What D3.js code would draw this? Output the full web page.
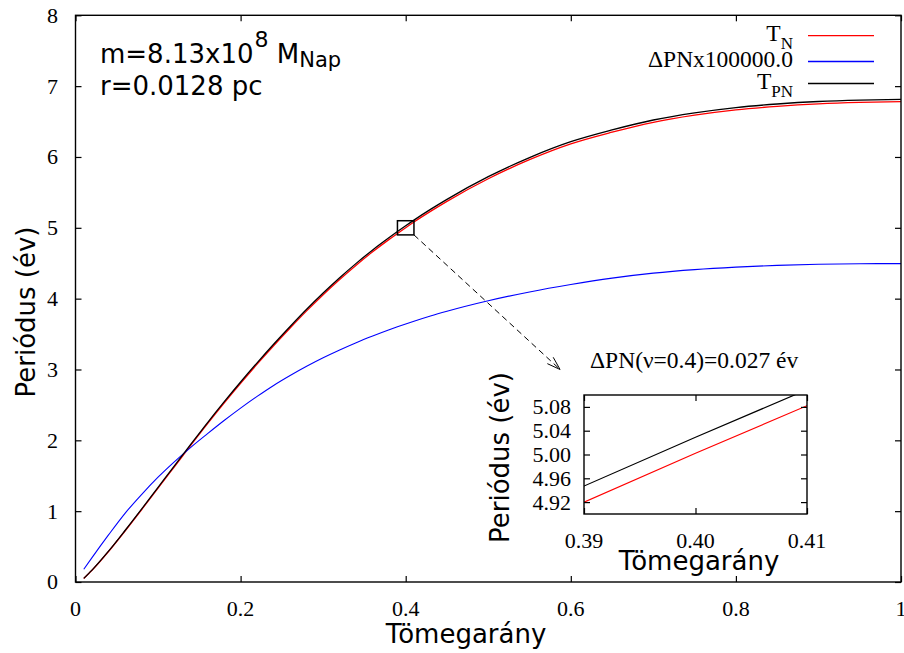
<!DOCTYPE html>
<html>
<head>
<meta charset="utf-8">
<script src="https://cdn.jsdelivr.net/npm/d3@7"></script>
<style>
  body { margin: 0; background: #fff; }
  svg { display: block; }
</style>
</head>
<body>
<svg id="chart" width="904" height="653"></svg>
<script>
// Mass ratio samples (nu)
const massRatio = [0.01, 0.02, 0.04, 0.06, 0.08, 0.10, 0.12, 0.14, 0.16, 0.18,
  0.20, 0.22, 0.24, 0.26, 0.28, 0.30, 0.32, 0.34, 0.36, 0.38,
  0.39, 0.40, 0.41, 0.43, 0.45, 0.50, 0.55, 0.60, 0.65, 0.70,
  0.75, 0.80, 0.85, 0.90, 0.95, 1.00];

// Newtonian period T_N (years)
const periodNewton = [0.05, 0.165, 0.43, 0.72, 1.02, 1.325, 1.63, 1.935, 2.235, 2.525,
  2.805, 3.075, 3.335, 3.585, 3.827, 4.056, 4.271, 4.473, 4.662, 4.837,
  4.920, 5.002, 5.082, 5.232, 5.374, 5.693, 5.962, 6.185, 6.35, 6.49,
  6.59, 6.665, 6.715, 6.75, 6.77, 6.78];

// Post-Newtonian period T_PN (years)
const periodPN = [0.051, 0.168, 0.435, 0.727, 1.029, 1.336, 1.643, 1.949, 2.251, 2.542,
  2.823, 3.094, 3.356, 3.607, 3.850, 4.079, 4.295, 4.498, 4.688, 4.863,
  4.947, 5.029, 5.109, 5.260, 5.402, 5.722, 5.992, 6.216, 6.382, 6.522,
  6.623, 6.698, 6.748, 6.783, 6.803, 6.813];

// PN correction, scaled by 1e5
const deltaPNScaled = [0.18, 0.345, 0.665, 0.97, 1.235, 1.48, 1.70, 1.905, 2.095, 2.28,
  2.455, 2.62, 2.775, 2.915, 3.045, 3.165, 3.275, 3.378, 3.472, 3.56,
  3.602, 3.642, 3.681, 3.755, 3.822, 3.97, 4.095, 4.20, 4.29, 4.36,
  4.41, 4.445, 4.47, 4.485, 4.493, 4.495];

const xTicks = [0, 0.2, 0.4, 0.6, 0.8, 1];
const yTicks = [0, 1, 2, 3, 4, 5, 6, 7, 8];
const insetXTicks = [0.39, 0.40, 0.41];
const insetYTicks = [4.92, 4.96, 5.00, 5.04, 5.08];

const zoomX = [0.39, 0.41];
const zoomY = [4.90, 5.10];
const arrowTip = [0.587, 3.0];

const SERIF = "'Liberation Serif', 'Times New Roman', serif";
const SANS = "'DejaVu Sans', sans-serif";

const svg = d3.select("#chart");

const plot = { left: 75.5, right: 901, top: 15.3, bottom: 582 };
const x = d3.scaleLinear().domain([0, 1]).range([plot.left, plot.right]);
const y = d3.scaleLinear().domain([0, 8]).range([plot.bottom, plot.top]);

const rows = massRatio.map((nu, i) => ({
  nu, tn: periodNewton[i], tpn: periodPN[i], dpn: deltaPNScaled[i]
}));

const defs = svg.append("defs");
defs.append("clipPath").attr("id", "mainClip").append("rect")
  .attr("x", plot.left).attr("y", plot.top)
  .attr("width", plot.right - plot.left).attr("height", plot.bottom - plot.top);

const series = [
  { key: "tn", color: "#ff0000", width: 1.3 },
  { key: "dpn", color: "#0000ff", width: 1.1 },
  { key: "tpn", color: "#000000", width: 1.3 }
];

function drawFrame(g, xs, ys, xt, yt, tickLen) {
  const [x0, x1] = xs.range();
  const [y0, y1] = ys.range();
  const axB = d3.axisBottom(xs).tickValues(xt).tickSize(-tickLen).tickFormat("");
  const axT = d3.axisTop(xs).tickValues(xt).tickSize(-tickLen).tickFormat("");
  const axL = d3.axisLeft(ys).tickValues(yt).tickSize(-tickLen).tickFormat("");
  const axR = d3.axisRight(ys).tickValues(yt).tickSize(-tickLen).tickFormat("");
  [[axB, `translate(0,${y0})`], [axT, `translate(0,${y1})`],
   [axL, `translate(${x0},0)`], [axR, `translate(${x1},0)`]].forEach(([ax, tr]) => {
    const a = g.append("g").attr("transform", tr).call(ax);
    a.select(".domain").remove();
    a.selectAll(".tick line").attr("stroke", "#000").attr("stroke-width", 1.2);
  });
  g.append("rect").attr("x", x0).attr("y", y1)
    .attr("width", x1 - x0).attr("height", y0 - y1)
    .attr("fill", "none").attr("stroke", "#000").attr("stroke-width", 1.4);
}

// Main curves
const curves = svg.append("g").attr("clip-path", "url(#mainClip)");
series.forEach(s => {
  const line = d3.line().x(d => x(d.nu)).y(d => y(d[s.key])).curve(d3.curveMonotoneX);
  curves.append("path").datum(rows).attr("d", line)
    .attr("fill", "none").attr("stroke", s.color).attr("stroke-width", s.width);
});

drawFrame(svg.append("g"), x, y, xTicks, yTicks, 6);

// Tick labels
svg.append("g").selectAll("text").data(xTicks).join("text")
  .attr("x", d => x(d)).attr("y", 615.5)
  .attr("text-anchor", "middle")
  .style("font-family", SERIF).style("font-size", "22px")
  .text(d => d3.format("~g")(d));

svg.append("g").selectAll("text").data(yTicks).join("text")
  .attr("x", 58).attr("y", d => y(d)).attr("dy", "0.34em")
  .attr("text-anchor", "end")
  .style("font-family", SERIF).style("font-size", "22px")
  .text(d => d);

// Axis titles
svg.append("text").attr("x", 466).attr("y", 642.5).attr("text-anchor", "middle")
  .style("font-family", SANS).style("font-size", "26px").text("Tömegarány");
svg.append("text").attr("transform", "translate(35,312) rotate(-90)")
  .attr("text-anchor", "middle")
  .style("font-family", SANS).style("font-size", "26px").text("Periódus (év)");

// Parameters
const ann = svg.append("g").style("font-family", SANS);
const t1 = ann.append("text").attr("x", 100).attr("y", 63).style("font-size", "26px");
t1.append("tspan").text("m=8.13x10");
t1.append("tspan").attr("dy", -16).attr("dx", 1).style("font-size", "22px").text("8");
t1.append("tspan").attr("dy", 16).text(" M");
t1.append("tspan").attr("dy", 4).style("font-size", "21px").text("Nap");
ann.append("text").attr("x", 100).attr("y", 95).style("font-size", "26px").text("r=0.0128 pc");

// Legend
const legend = [
  { main: "T", sub: "N", color: "#ff0000", y: 40.7 },
  { main: "ΔPNx100000.0", sub: "", color: "#0000ff", y: 66.5 },
  { main: "T", sub: "PN", color: "#000000", y: 88.5 }
];
const lg = svg.append("g");
legend.forEach(l => {
  const t = lg.append("text").attr("x", 793).attr("y", l.y).attr("text-anchor", "end")
    .style("font-family", SERIF).style("font-size", "23.5px");
  t.append("tspan").text(l.main);
  if (l.sub) t.append("tspan").attr("dy", 8).style("font-size", "17px").text(l.sub);
  lg.append("line").attr("x1", 808).attr("x2", 874)
    .attr("y1", l.y - 5).attr("y2", l.y - 5)
    .attr("stroke", l.color).attr("stroke-width", 1.3);
});

// Zoom box and dashed arrow
svg.append("rect")
  .attr("x", x(zoomX[0])).attr("y", y(zoomY[1]))
  .attr("width", x(zoomX[1]) - x(zoomX[0])).attr("height", y(zoomY[0]) - y(zoomY[1]))
  .attr("fill", "none").attr("stroke", "#000").attr("stroke-width", 1.5);

const ax0 = x(zoomX[1]), ay0 = y(zoomY[0]);
const ax1 = x(arrowTip[0]), ay1 = y(arrowTip[1]);
svg.append("line").attr("x1", ax0).attr("y1", ay0).attr("x2", ax1).attr("y2", ay1)
  .attr("stroke", "#000").attr("stroke-width", 1).attr("stroke-dasharray", "6,4");
const ang = Math.atan2(ay1 - ay0, ax1 - ax0);
const headLen = 14, headAng = Math.PI / 10;
[-1, 1].forEach(sgn => {
  svg.append("line").attr("x1", ax1).attr("y1", ay1)
    .attr("x2", ax1 - headLen * Math.cos(ang + sgn * headAng))
    .attr("y2", ay1 - headLen * Math.sin(ang + sgn * headAng))
    .attr("stroke", "#000").attr("stroke-width", 1);
});

// Inset
const inset = { left: 584, right: 807, top: 395, bottom: 514 };
const xi = d3.scaleLinear().domain(zoomX).range([inset.left, inset.right]);
const yi = d3.scaleLinear().domain(zoomY).range([inset.bottom, inset.top]);
defs.append("clipPath").attr("id", "insetClip").append("rect")
  .attr("x", inset.left).attr("y", inset.top)
  .attr("width", inset.right - inset.left).attr("height", inset.bottom - inset.top);

const ig = svg.append("g");
ig.append("rect").attr("x", inset.left).attr("y", inset.top)
  .attr("width", inset.right - inset.left).attr("height", inset.bottom - inset.top)
  .attr("fill", "#fff");
const ic = ig.append("g").attr("clip-path", "url(#insetClip)");
[series[0], series[2]].forEach(s => {
  const line = d3.line().x(d => xi(d.nu)).y(d => yi(d[s.key])).curve(d3.curveMonotoneX);
  ic.append("path").datum(rows).attr("d", line)
    .attr("fill", "none").attr("stroke", s.color).attr("stroke-width", 1.2);
});
drawFrame(ig.append("g"), xi, yi, insetXTicks, insetYTicks, 6);

ig.append("g").selectAll("text").data(insetXTicks).join("text")
  .attr("x", d => xi(d)).attr("y", 548).attr("text-anchor", "middle")
  .style("font-family", SERIF).style("font-size", "22px")
  .text(d => d3.format(".2f")(d));
ig.append("g").selectAll("text").data(insetYTicks).join("text")
  .attr("x", 571).attr("y", d => yi(d)).attr("dy", "0.34em").attr("text-anchor", "end")
  .style("font-family", SERIF).style("font-size", "22px")
  .text(d => d3.format(".2f")(d));

ig.append("text").attr("x", 699).attr("y", 570).attr("text-anchor", "middle")
  .style("font-family", SANS).style("font-size", "26px").text("Tömegarány");
ig.append("text").attr("transform", "translate(509,457.5) rotate(-90)")
  .attr("text-anchor", "middle")
  .style("font-family", SANS).style("font-size", "26px").text("Periódus (év)");

ig.append("text").attr("x", 590).attr("y", 368)
  .style("font-family", SERIF).style("font-size", "23.5px")
  .text("ΔPN(ν=0.4)=0.027 év");
</script>
</body>
</html>
